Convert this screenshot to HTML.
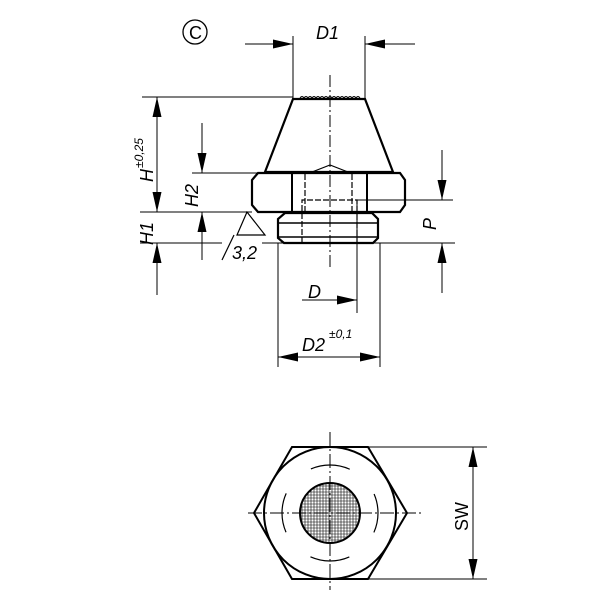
<!DOCTYPE html>
<html><head><style>body{margin:0;background:#fff}svg{display:block}text{font-family:"Liberation Sans",sans-serif;font-style:italic;fill:#000}</style></head><body>
<svg width="600" height="600" viewBox="0 0 600 600" xmlns="http://www.w3.org/2000/svg">
<defs>
<marker id="a" viewBox="0 0 20 9" refX="20" refY="4.5" markerWidth="20" markerHeight="9" markerUnits="userSpaceOnUse" orient="auto"><path d="M0,0L20,4.5L0,9z" fill="#000"/></marker>
</defs>
<g stroke="#000" fill="none">
<circle cx="195" cy="32" r="12" stroke-width="1.3"/>
<line x1="293" y1="36" x2="293" y2="99" stroke-width="1"/>
<line x1="365" y1="36" x2="365" y2="99" stroke-width="1"/>
<line x1="245" y1="44" x2="293" y2="44" stroke-width="1" marker-end="url(#a)"/>
<line x1="415" y1="44" x2="365" y2="44" stroke-width="1" marker-end="url(#a)"/>
<line x1="330" y1="75" x2="330" y2="270" stroke-width="1" stroke-dasharray="12,3,2,3"/>
<path d="M293,99L365,99L393,172L265,172Z" stroke-width="2.2"/>
<path d="M300,98q2,-3 4,0q2,-3 4,0q2,-3 4,0q2,-3 4,0q2,-3 4,0q2,-3 4,0q2,-3 4,0q2,-3 4,0q2,-3 4,0q2,-3 4,0q2,-3 4,0q2,-3 4,0q2,-3 4,0q2,-3 4,0q2,-3 4,0" stroke-width="1"/>
<path d="M258,173L400,173L405,180L405,205L400,212L258,212L252,205L252,180Z" stroke-width="2.2"/>
<line x1="292" y1="174" x2="292" y2="211" stroke-width="2"/>
<line x1="367" y1="174" x2="367" y2="211" stroke-width="2"/>
<path d="M312,172L330,165L348,172" stroke-width="1.2"/>
<path d="M305,174V212M352,174V212" stroke-width="1.2" stroke-dasharray="6,2"/>
<path d="M302,243V200H357V243" stroke-width="1.2" stroke-dasharray="6,2"/>
<path d="M285,213H372L378,219V238L373,243H284L278,238V219Z" stroke-width="2.2"/>
<line x1="279" y1="223" x2="377" y2="223" stroke-width="1.5"/>
<line x1="279" y1="237" x2="377" y2="237" stroke-width="1.5"/>
<line x1="142" y1="97" x2="293" y2="97" stroke-width="1"/>
<line x1="140" y1="212" x2="252" y2="212" stroke-width="1"/>
<line x1="192" y1="173" x2="258" y2="173" stroke-width="1"/>
<line x1="140" y1="243" x2="222" y2="243" stroke-width="1"/>
<line x1="262" y1="243" x2="455" y2="243" stroke-width="1"/>
<line x1="357" y1="200" x2="453" y2="200" stroke-width="1"/>
<line x1="157" y1="150" x2="157" y2="97" stroke-width="1" marker-end="url(#a)"/>
<line x1="157" y1="150" x2="157" y2="212" stroke-width="1" marker-end="url(#a)"/>
<line x1="157" y1="295" x2="157" y2="243" stroke-width="1" marker-end="url(#a)"/>
<line x1="202" y1="123" x2="202" y2="173" stroke-width="1" marker-end="url(#a)"/>
<line x1="202" y1="260" x2="202" y2="212" stroke-width="1" marker-end="url(#a)"/>
<line x1="442" y1="150" x2="442" y2="200" stroke-width="1" marker-end="url(#a)"/>
<line x1="442" y1="293" x2="442" y2="243" stroke-width="1" marker-end="url(#a)"/>
<path d="M247,212L237,235H265Z" stroke-width="1.2"/>
<line x1="222" y1="260" x2="234" y2="235" stroke-width="1.2"/>
<line x1="357" y1="200" x2="357" y2="313" stroke-width="1"/>
<line x1="302" y1="300" x2="357" y2="300" stroke-width="1" marker-end="url(#a)"/>
<line x1="278" y1="243" x2="278" y2="367" stroke-width="1"/>
<line x1="380" y1="243" x2="380" y2="367" stroke-width="1"/>
<line x1="329" y1="357" x2="278" y2="357" stroke-width="1" marker-end="url(#a)"/>
<line x1="329" y1="357" x2="380" y2="357" stroke-width="1" marker-end="url(#a)"/>
<path d="M292,447L368,447L407,513L368,579L292,579L254,513Z" stroke-width="2"/>
<circle cx="330" cy="513" r="66" stroke-width="2"/>
<circle cx="330" cy="513" r="48" stroke-width="1.2" stroke-dasharray="40,35.4" stroke-dashoffset="20"/>
<line x1="330" y1="432" x2="330" y2="590" stroke-width="1" stroke-dasharray="14,3,2,3"/>
<line x1="248" y1="513" x2="423" y2="513" stroke-width="1" stroke-dasharray="14,3,2,3"/>
<line x1="368" y1="447" x2="487" y2="447" stroke-width="1"/>
<line x1="368" y1="579" x2="487" y2="579" stroke-width="1"/>
<line x1="473" y1="513" x2="473" y2="447" stroke-width="1" marker-end="url(#a)"/>
<line x1="473" y1="513" x2="473" y2="579" stroke-width="1" marker-end="url(#a)"/>
</g>
<clipPath id="c"><circle cx="330" cy="513" r="30"/></clipPath>
<g clip-path="url(#c)" stroke="#000" stroke-width="0.6">
<path d="M300,483h60M300,486h60M300,489h60M300,492h60M300,495h60M300,498h60M300,501h60M300,504h60M300,507h60M300,510h60M300,513h60M300,516h60M300,519h60M300,522h60M300,525h60M300,528h60M300,531h60M300,534h60M300,537h60M300,540h60M300,543h60"/>
<path d="M302,480v66M305,480v66M308,480v66M311,480v66M314,480v66M317,480v66M320,480v66M323,480v66M326,480v66M329,480v66M332,480v66M335,480v66M338,480v66M341,480v66M344,480v66M347,480v66M350,480v66M353,480v66M356,480v66M359,480v66"/>
</g>
<circle cx="330" cy="513" r="30" fill="none" stroke="#000" stroke-width="2"/>
<text x="189" y="39" font-size="18" style="font-style:normal">C</text>
<text x="316" y="39" font-size="18">D1</text>
<text x="308" y="298" font-size="18">D</text>
<text x="302" y="351" font-size="18">D2</text>
<text x="329" y="338" font-size="12">±0,1</text>
<text x="232" y="259" font-size="18">3,2</text>
<text transform="translate(153,182) rotate(-90)" font-size="18">H</text>
<text transform="translate(143,168) rotate(-90)" font-size="12">±0,25</text>
<text transform="translate(153,245) rotate(-90)" font-size="18">H1</text>
<text transform="translate(198,207) rotate(-90)" font-size="18">H2</text>
<text transform="translate(436,230) rotate(-90)" font-size="18">P</text>
<text transform="translate(468,531) rotate(-90)" font-size="18" style="font-style:normal">SW</text>
</svg>
</body></html>
